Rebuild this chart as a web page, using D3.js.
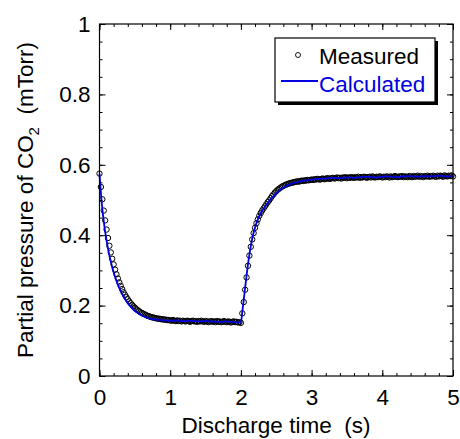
<!DOCTYPE html>
<html>
<head>
<meta charset="utf-8">
<script src="https://cdn.jsdelivr.net/npm/d3@7"></script>
<style>
  body { margin: 0; background: #fff; }
  svg text { font-family: "Liberation Sans", Arial, sans-serif; }
</style>
</head>
<body>
<svg id="chart" width="460" height="439"></svg>
<script>
// ================= DATA ===================
// measured partial pressure (mTorr), sampled every 0.02 s from 0 to 5 s
const measuredStep = 0.02;
const measuredValues = [
  0.575,0.537,0.502,0.470,0.442,0.416,0.392,0.370,0.351,0.333,
  0.317,0.302,0.289,0.277,0.266,0.256,0.247,0.238,0.231,0.224,
  0.218,0.212,0.207,0.202,0.198,0.194,0.190,0.187,0.184,0.181,
  0.179,0.177,0.175,0.173,0.171,0.170,0.168,0.167,0.166,0.165,
  0.164,0.163,0.163,0.162,0.161,0.161,0.160,0.160,0.159,0.159,
  0.158,0.157,0.159,0.157,0.156,0.158,0.156,0.157,0.155,0.157,
  0.156,0.155,0.157,0.156,0.154,0.156,0.157,0.155,0.156,0.154,
  0.156,0.155,0.157,0.155,0.154,0.156,0.155,0.153,0.155,0.156,
  0.154,0.155,0.153,0.156,0.154,0.155,0.153,0.154,0.156,0.154,
  0.153,0.155,0.154,0.152,0.154,0.155,0.153,0.154,0.152,0.153,
  0.151,0.178,0.210,0.245,0.280,0.313,0.342,0.367,0.388,0.406,
  0.421,0.434,0.445,0.455,0.463,0.470,0.476,0.482,0.488,0.494,
  0.499,0.505,0.511,0.516,0.521,0.525,0.529,0.532,0.535,0.538,
  0.540,0.542,0.544,0.545,0.547,0.548,0.549,0.550,0.551,0.552,
  0.553,0.552,0.554,0.555,0.554,0.556,0.555,0.557,0.556,0.557,
  0.558,0.557,0.559,0.558,0.560,0.559,0.558,0.560,0.561,0.559,
  0.560,0.562,0.561,0.560,0.562,0.563,0.561,0.562,0.564,0.562,
  0.563,0.561,0.564,0.563,0.565,0.562,0.564,0.563,0.565,0.564,
  0.563,0.565,0.564,0.566,0.563,0.565,0.564,0.566,0.565,0.563,
  0.565,0.566,0.564,0.567,0.565,0.564,0.566,0.565,0.567,0.566,
  0.564,0.566,0.565,0.567,0.566,0.564,0.567,0.565,0.566,0.568,
  0.566,0.565,0.567,0.566,0.568,0.565,0.567,0.566,0.565,0.568,
  0.567,0.565,0.568,0.566,0.567,0.569,0.566,0.568,0.567,0.565,
  0.568,0.567,0.569,0.566,0.568,0.567,0.569,0.567,0.566,0.569,
  0.567,0.569,0.568,0.566,0.570,0.568,0.567,0.569,0.568,0.570,
  0.567
];

// calculated curve
const calcTime = [
  0,0.02,0.04,0.06,0.08,0.10,0.12,0.14,0.16,0.18,0.20,
  0.25,0.30,0.35,0.40,0.45,0.50,0.55,0.60,0.70,0.80,0.90,
  1.0,1.1,1.2,1.3,1.4,1.5,1.6,1.7,1.8,1.9,2.0,
  2.02,2.04,2.06,2.08,2.10,2.12,2.14,2.16,2.18,2.20,
  2.25,2.30,2.35,2.40,2.45,2.50,2.55,2.60,2.70,2.80,2.90,
  3.0,3.1,3.2,3.3,3.4,3.5,3.6,3.7,3.8,3.9,4.0,
  4.1,4.2,4.3,4.4,4.5,4.6,4.7,4.8,4.9,5.0
];
const calcValue = [
  0.575,0.520,0.475,0.440,0.410,0.385,0.362,0.342,0.325,0.309,0.295,
  0.265,0.241,0.222,0.207,0.195,0.185,0.178,0.172,0.164,0.160,0.158,
  0.157,0.158,0.156,0.157,0.155,0.156,0.155,0.154,0.155,0.153,0.152,
  0.182,0.216,0.251,0.285,0.317,0.345,0.369,0.390,0.407,0.422,
  0.450,0.469,0.484,0.497,0.508,0.519,0.528,0.535,0.545,0.551,0.555,
  0.558,0.560,0.561,0.563,0.562,0.564,0.563,0.565,0.566,0.564,0.566,
  0.567,0.565,0.567,0.568,0.566,0.568,0.567,0.569,0.567,0.568
];

// ticks
const xMajorTicks = [0, 1, 2, 3, 4, 5];
const xMinorTicks = d3.range(0, 5.001, 0.2);
const yMajorTicks = [0, 0.2, 0.4, 0.6, 0.8, 1];
const yMinorTicks = d3.range(0, 1.001, 0.05);

const legendLabels = ["Measured", "Calculated"];

// ================= LAYOUT ===================
const plot = { left: 99.5, right: 453, top: 24, bottom: 376 };
const svg = d3.select("#chart");
const fontSize = 22.5;

const x = d3.scaleLinear().domain([0, 5]).range([plot.left, plot.right]);
const y = d3.scaleLinear().domain([0, 1]).range([plot.bottom, plot.top]);

// ================= DATA MARKS ===================
const measured = measuredValues.map((v, i) => ({ t: i * measuredStep, v }));
const calculated = calcTime.map((t, i) => ({ t, v: calcValue[i] }));

svg.append("g")
  .selectAll("circle")
  .data(measured)
  .join("circle")
  .attr("cx", (d) => x(d.t))
  .attr("cy", (d) => y(d.v))
  .attr("r", 2.7)
  .attr("fill", "none")
  .attr("stroke", "#000")
  .attr("stroke-width", 1);

const line = d3.line()
  .x((d) => x(d.t))
  .y((d) => y(d.v))
  .curve(d3.curveMonotoneX);

svg.append("path")
  .datum(calculated)
  .attr("d", line)
  .attr("fill", "none")
  .attr("stroke", "#0000e0")
  .attr("stroke-width", 1.8);

// ================= AXES ===================
function styleAxis(g) {
  g.select(".domain").remove();
  g.selectAll(".tick line").attr("stroke", "#000").attr("stroke-width", 1);
  g.selectAll(".tick text")
    .attr("fill", "#000")
    .attr("font-size", fontSize)
    .attr("font-family", "Liberation Sans, Arial, sans-serif");
}

// bottom
svg.append("g")
  .attr("transform", `translate(0,${plot.bottom})`)
  .call(d3.axisBottom(x).tickValues(xMinorTicks).tickSize(-3).tickFormat(""))
  .call(styleAxis);
svg.append("g")
  .attr("transform", `translate(0,${plot.bottom})`)
  .call(d3.axisBottom(x).tickValues(xMajorTicks).tickSize(-6).tickPadding(13).tickFormat(d3.format("d")))
  .call(styleAxis);
// top
svg.append("g")
  .attr("transform", `translate(0,${plot.top})`)
  .call(d3.axisTop(x).tickValues(xMinorTicks).tickSize(-3).tickFormat(""))
  .call(styleAxis);
svg.append("g")
  .attr("transform", `translate(0,${plot.top})`)
  .call(d3.axisTop(x).tickValues(xMajorTicks).tickSize(-6).tickFormat(""))
  .call(styleAxis);
// left
svg.append("g")
  .attr("transform", `translate(${plot.left},0)`)
  .call(d3.axisLeft(y).tickValues(yMinorTicks).tickSize(-3).tickFormat(""))
  .call(styleAxis);
svg.append("g")
  .attr("transform", `translate(${plot.left},0)`)
  .call(d3.axisLeft(y).tickValues(yMajorTicks).tickSize(-6).tickPadding(9).tickFormat((d) => String(+d.toFixed(1))))
  .call(styleAxis);
// right
svg.append("g")
  .attr("transform", `translate(${plot.right},0)`)
  .call(d3.axisRight(y).tickValues(yMinorTicks).tickSize(-3).tickFormat(""))
  .call(styleAxis);
svg.append("g")
  .attr("transform", `translate(${plot.right},0)`)
  .call(d3.axisRight(y).tickValues(yMajorTicks).tickSize(-6).tickFormat(""))
  .call(styleAxis);

// frame
svg.append("rect")
  .attr("x", plot.left)
  .attr("y", plot.top)
  .attr("width", plot.right - plot.left)
  .attr("height", plot.bottom - plot.top)
  .attr("fill", "none")
  .attr("stroke", "#000")
  .attr("stroke-width", 1.2);

// ================= AXIS TITLES ===================
svg.append("text")
  .attr("x", 276)
  .attr("y", 433)
  .attr("text-anchor", "middle")
  .attr("font-size", fontSize)
  .attr("xml:space", "preserve")
  .text("Discharge time  (s)");

const yTitle = svg.append("text")
  .attr("transform", `translate(33,${(plot.top + plot.bottom) / 2}) rotate(-90)`)
  .attr("text-anchor", "middle")
  .attr("font-size", fontSize)
  .attr("xml:space", "preserve");
yTitle.append("tspan").text("Partial pressure of CO");
yTitle.append("tspan").attr("font-size", 15).attr("dy", 6).text("2");
yTitle.append("tspan").attr("dy", -6).text("  (mTorr)");

// ================= LEGEND ===================
const legend = svg.append("g");
legend.append("rect")
  .attr("x", 278).attr("y", 41)
  .attr("width", 160).attr("height", 64)
  .attr("fill", "#000");
legend.append("rect")
  .attr("x", 275).attr("y", 38)
  .attr("width", 160).attr("height", 64)
  .attr("fill", "#fff")
  .attr("stroke", "#000")
  .attr("stroke-width", 1.2);
legend.append("circle")
  .attr("cx", 298).attr("cy", 55)
  .attr("r", 2.5)
  .attr("fill", "none")
  .attr("stroke", "#000")
  .attr("stroke-width", 0.9);
legend.append("line")
  .attr("x1", 281).attr("x2", 318)
  .attr("y1", 81).attr("y2", 81)
  .attr("stroke", "#0000e0")
  .attr("stroke-width", 1.8);
legend.append("text")
  .attr("x", 319).attr("y", 64)
  .attr("font-size", fontSize)
  .attr("fill", "#000")
  .text(legendLabels[0]);
legend.append("text")
  .attr("x", 319).attr("y", 92)
  .attr("font-size", fontSize)
  .attr("fill", "#0000e0")
  .text(legendLabels[1]);
</script>
</body>
</html>
